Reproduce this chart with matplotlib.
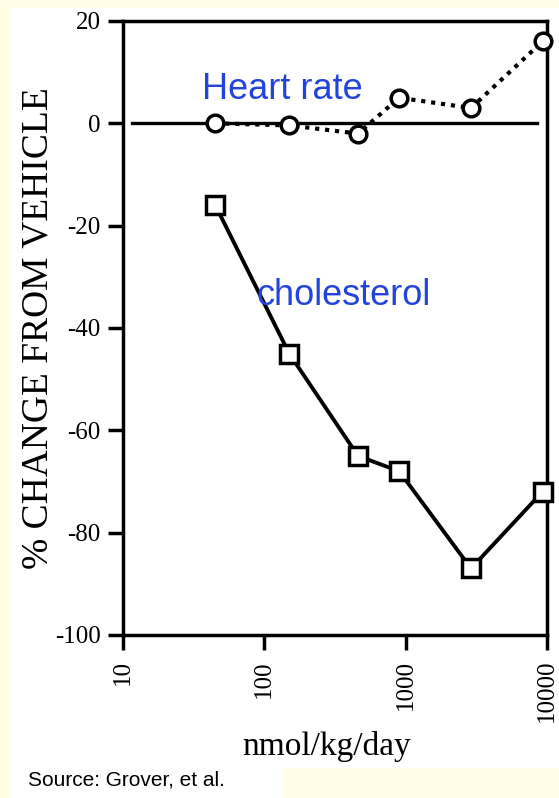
import matplotlib.pyplot as plt
from matplotlib.patches import Rectangle

plt.rcParams['axes.unicode_minus'] = False

# Data (dose in nmol/kg/day, % change from vehicle)
dose = [45, 150, 460, 900, 2900, 9300]
heart_rate = [0, -0.4, -2, 5, 3, 16]
cholesterol = [-16, -45, -65, -68, -87, -72]

x_ticks = [10, 100, 1000, 10000]
x_tick_labels = ['10', '100', '1000', '10000']
y_ticks = [20, 0, -20, -40, -60, -80, -100]

W, H = 559, 798
serif = 'Liberation Serif'
sans = 'Liberation Sans'
blue = '#2244dd'
yellow = '#fffde3'

fig = plt.figure(figsize=(W / 100, H / 100), dpi=100)
fig.patch.set_facecolor(yellow)

# white panel behind the scan, plus the yellow strip at the bottom right
fig.patches.append(Rectangle((10 / W, 0), 1 - 10 / W, 1 - 8 / H,
                             transform=fig.transFigure, facecolor='white',
                             edgecolor='none', zorder=-2))
fig.patches.append(Rectangle((283 / W, 0), 1 - 283 / W, 30 / H,
                             transform=fig.transFigure, facecolor=yellow,
                             edgecolor='none', zorder=-1))

ax = fig.add_axes([123 / W, 1 - 635 / H, (547 - 123) / W, (635 - 21) / H])
ax.set_facecolor('white')
ax.set_xscale('log')
ax.set_xlim(10, 10000)
ax.set_ylim(-100, 20)

for s in ax.spines.values():
    s.set_linewidth(2.5)
    s.set_color('black')

# zero reference line
ax.axhline(0, xmin=0.021, xmax=0.976, color='black', lw=2.4, zorder=2)

# heart rate (dotted, open circles)
ax.plot(dose, heart_rate, color='black', lw=3, linestyle=(0, (1, 1.4)),
        marker='o', markersize=12, markerfacecolor='white',
        markeredgecolor='black', markeredgewidth=2.5, zorder=3, clip_on=False)

# cholesterol (solid, open squares)
ax.plot(dose, cholesterol, color='black', lw=2.8, linestyle='-',
        marker='s', markersize=13, markerfacecolor='white',
        markeredgecolor='black', markeredgewidth=2.5, zorder=3, clip_on=False)

ax.set_xticks(x_ticks)
ax.set_xticklabels(x_tick_labels, rotation=90, fontfamily=serif, fontsize=18)
ax.xaxis.set_minor_locator(plt.NullLocator())
ax.set_yticks(y_ticks)
ax.set_yticklabels([str(v) for v in y_ticks], fontfamily=serif, fontsize=18)
ax.tick_params(axis='both', direction='out', length=11, width=2.5, color='black')
ax.tick_params(axis='x', pad=7)
ax.tick_params(axis='y', pad=5)

fig.text(38 / W, 1 - 328 / H, '% CHANGE FROM VEHICLE', rotation=90,
         ha='center', va='center', fontfamily=serif, fontsize=27)
fig.text(327 / W, 1 - 755 / H, 'nmol/kg/day', ha='center', va='baseline',
         fontfamily=serif, fontsize=24)

fig.text(202 / W, 1 - 99 / H, 'Heart rate', color=blue, ha='left',
         va='baseline', fontfamily=sans, fontsize=26)
fig.text(257 / W, 1 - 305 / H, 'cholesterol', color=blue, ha='left',
         va='baseline', fontfamily=sans, fontsize=26)

fig.text(28 / W, 1 - 785 / H, 'Source: Grover, et al.', color='black',
         ha='left', va='baseline', fontfamily=sans, fontsize=15)

fig.savefig('out.png', dpi=100, facecolor=fig.get_facecolor())
